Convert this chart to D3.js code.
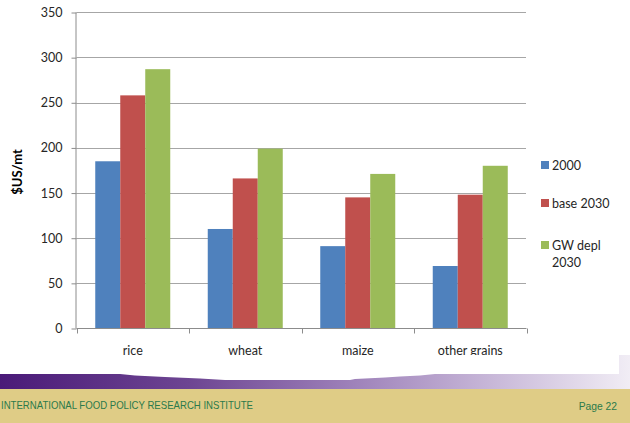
<!DOCTYPE html>
<html><head><meta charset="utf-8">
<script src="https://cdn.jsdelivr.net/npm/d3@7"></script>
<style>body{margin:0;background:#fff}svg{display:block}</style>
</head><body>
<svg id="c" width="630" height="423"></svg>
<script>
const categories = ["rice", "wheat", "maize", "other grains"];
const seriesNames = ["2000", "base 2030", "GW depl 2030"];
const values2000 = [185, 110, 91, 69];
const valuesBase2030 = [258, 166, 145, 148];
const valuesGW2030 = [287, 199, 171, 180];
const yTicks = [0, 50, 100, 150, 200, 250, 300, 350];
const colors = ["#4f81bd", "#c0504d", "#9bbb59"];

const series = [values2000, valuesBase2030, valuesGW2030];
const svg = d3.select("#c");
const font = "Lato, 'Open Sans', sans-serif";

const x0 = d3.scaleBand().domain(categories).range([76.5, 526.5]).paddingInner(1/3).paddingOuter(1/6);
const x1 = d3.scaleBand().domain(seriesNames).range([0, x0.bandwidth()]);
const y = d3.scaleLinear().domain([0, 350]).range([328.3, 12.3]);

// gridlines
svg.append("g").selectAll("line").data(yTicks.filter(d => d > 0)).join("line")
  .attr("x1", 76.5).attr("x2", 526).attr("y1", d => Math.round(y(d)) + 0.5).attr("y2", d => Math.round(y(d)) + 0.5)
  .attr("stroke", "#a6a6a6").attr("stroke-width", 1.2);

// y axis
const yAxis = d3.axisLeft(y).tickValues(yTicks).tickSize(5).tickPadding(9);
const gy = svg.append("g").attr("transform", "translate(76.5,0.2)").call(yAxis);
gy.select(".domain").attr("stroke", "#8c8c8c").attr("d", `M-0.5,${y(350)}V${y(0)}`);
gy.selectAll(".tick line").attr("stroke", "#8c8c8c");
gy.selectAll(".tick text").attr("font-family", font).attr("font-size", 12.5).attr("fill", "#262626");

// bars
const groups = svg.append("g").selectAll("g").data(categories).join("g")
  .attr("transform", d => `translate(${x0(d)},0)`);
groups.selectAll("rect").data((c, i) => series.map((s, k) => ({k, v: s[i]}))).join("rect")
  .attr("x", d => x1(seriesNames[d.k]))
  .attr("width", x1.bandwidth())
  .attr("y", d => y(d.v))
  .attr("height", d => y(0) - y(d.v))
  .attr("fill", d => colors[d.k]);

// x axis
const xAxis = d3.axisBottom(x0).tickSize(0).tickPadding(18);
const gx = svg.append("g").attr("transform", `translate(0,${Math.round(y(0)) + 0.5})`).call(xAxis);
gx.select(".domain").attr("stroke", "#8c8c8c").attr("d", "M76.5,0H526.5");
gx.selectAll(".tick text").attr("font-family", font).attr("font-size", 12.5).attr("fill", "#262626");
const boundaries = categories.map(c => x0(c) - x0.step() * x0.paddingInner() / 2).concat([526.5]);
gx.append("g").selectAll("line").data(boundaries).join("line")
  .attr("x1", d => Math.round(d) + 0.5).attr("x2", d => Math.round(d) + 0.5).attr("y1", 0).attr("y2", 5)
  .attr("stroke", "#8c8c8c");

// y title
svg.append("text").attr("transform", "translate(22,172) rotate(-90)")
  .attr("text-anchor", "middle").attr("font-family", font).attr("font-weight", "bold")
  .attr("font-size", 13).attr("fill", "#000").text("$US/mt");

// legend
const legendRows = [{k:0, y:165, lines:["2000"]}, {k:1, y:203, lines:["base 2030"]}, {k:2, y:245, lines:["GW depl", "2030"]}];
const lg = svg.append("g");
legendRows.forEach(r => {
  lg.append("rect").attr("x", 541).attr("y", r.y - 4).attr("width", 8).attr("height", 8).attr("fill", colors[r.k]);
  r.lines.forEach((t, j) => {
    lg.append("text").attr("x", 552).attr("y", r.y + 4.5 + j * 17).attr("font-family", font)
      .attr("font-size", 12.5).attr("fill", "#262626").text(t);
  });
});

// footer
const defs = svg.append("defs");
const grad = defs.append("linearGradient").attr("id", "pg").attr("x1", "0").attr("x2", "1").attr("y1", "0").attr("y2", "0");
[["0%", "#4a1a78"], ["30%", "#6d4592"], ["55%", "#9c7fb8"], ["75%", "#c2b0d4"], ["100%", "#f1edf5"]].forEach(s =>
  grad.append("stop").attr("offset", s[0]).attr("stop-color", s[1]));
svg.append("rect").attr("x", 0).attr("y", 355).attr("width", 630).attr("height", 34).attr("fill", "url(#pg)");
svg.append("path").attr("fill", "#fff")
  .attr("d", "M0,355H619V374H435L420,375.5L400,376.5L385,377.5L355,379L350,380H225L200,378.5L165,377L135,375.5L120,374H0Z");
svg.append("rect").attr("x", 0).attr("y", 389).attr("width", 630).attr("height", 34).attr("fill", "#dfcc86");
svg.append("text").attr("x", 1).attr("y", 408.5)
  .attr("textLength", 252).attr("lengthAdjust", "spacingAndGlyphs")
  .attr("font-family", "'Liberation Sans', Arial, sans-serif").attr("font-size", 10.3).attr("fill", "#2b7a4b")
  .text("INTERNATIONAL FOOD POLICY RESEARCH INSTITUTE");
svg.append("text").attr("x", 617).attr("y", 409.5).attr("text-anchor", "end")
  .attr("font-family", "'Liberation Sans', Arial, sans-serif").attr("font-size", 10.3).attr("fill", "#2b7a4b")
  .text("Page 22");
</script>
</body></html>
